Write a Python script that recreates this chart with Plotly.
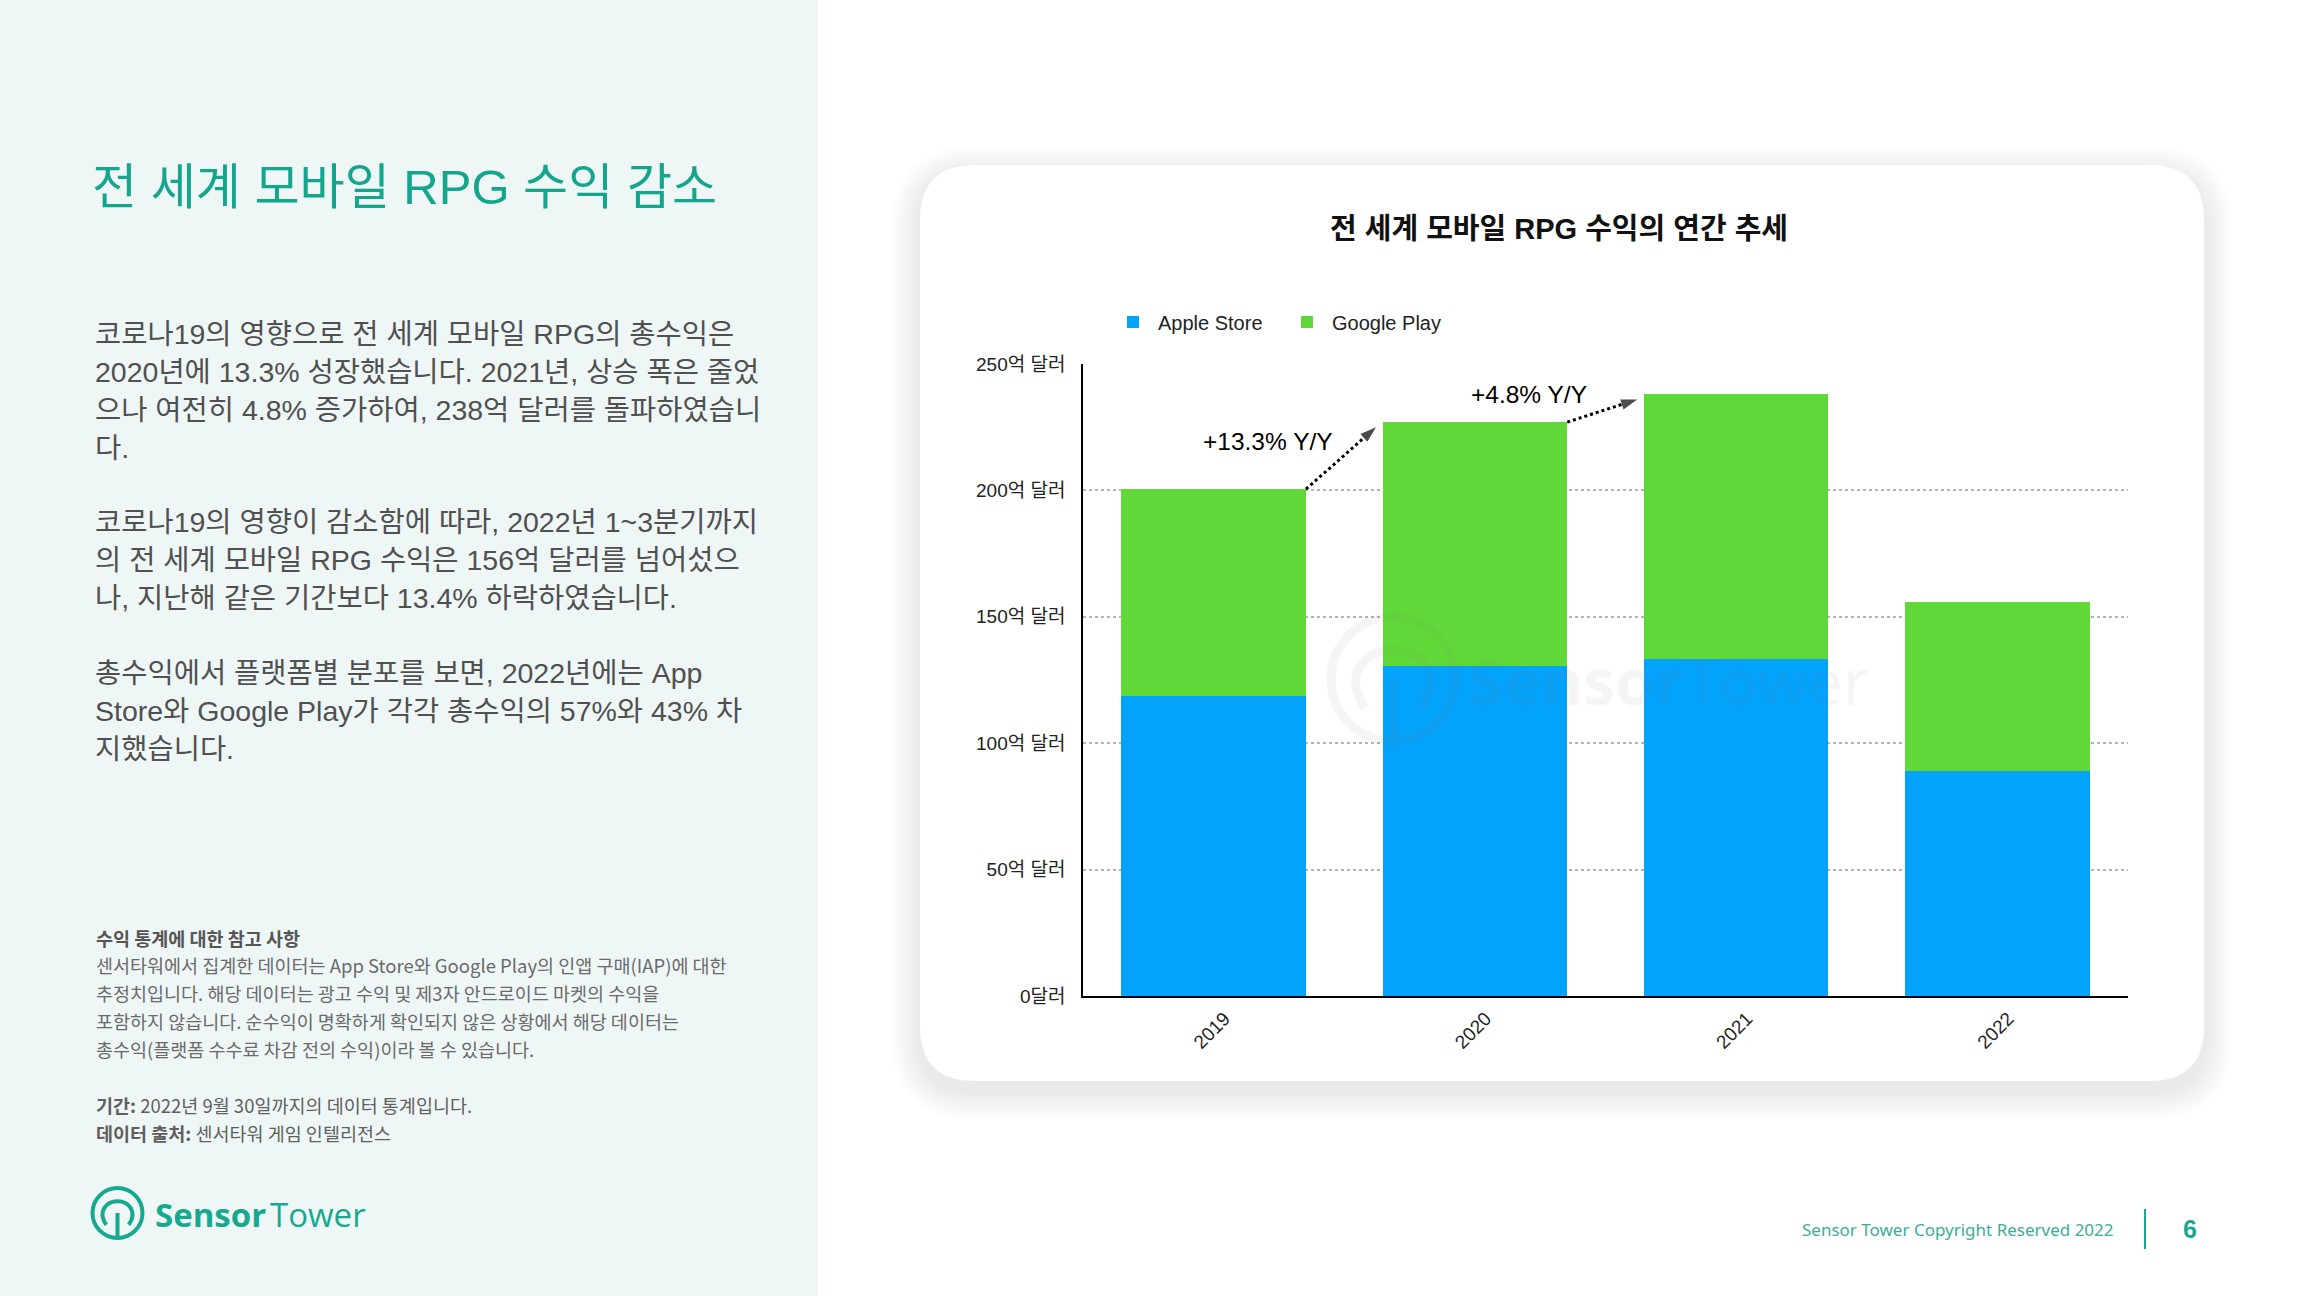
import plotly.graph_objects as go

# ---------------- data ----------------
years = ["2019", "2020", "2021", "2022"]
apple_store = [118.5, 130.5, 133.5, 89.0]   # 억 달러
google_play = [82.0, 96.5, 104.5, 67.0]     # 억 달러
yoy_labels = ["+13.3% Y/Y", "+4.8% Y/Y"]
y_tickvals = [0, 50, 100, 150, 200, 250]
y_ticktext = ["0달러", "50억 달러", "100억 달러", "150억 달러", "200억 달러", "250억 달러"]

chart_title = "전 세계 모바일 RPG 수익의 연간 추세"
page_title = "전 세계 모바일 RPG 수익 감소"
paragraphs = [
    ["코로나19의 영향으로 전 세계 모바일 RPG의 총수익은",
     "2020년에 13.3% 성장했습니다. 2021년, 상승 폭은 줄었",
     "으나 여전히 4.8% 증가하여, 238억 달러를 돌파하였습니",
     "다."],
    ["코로나19의 영향이 감소함에 따라, 2022년 1~3분기까지",
     "의 전 세계 모바일 RPG 수익은 156억 달러를 넘어섰으",
     "나, 지난해 같은 기간보다 13.4% 하락하였습니다."],
    ["총수익에서 플랫폼별 분포를 보면, 2022년에는 App",
     "Store와 Google Play가 각각 총수익의 57%와 43% 차",
     "지했습니다."],
]
note_title = "수익 통계에 대한 참고 사항"
note_lines = [
    "센서타워에서 집계한 데이터는 App Store와 Google Play의 인앱 구매(IAP)에 대한",
    "추정치입니다. 해당 데이터는 광고 수익 및 제3자 안드로이드 마켓의 수익을",
    "포함하지 않습니다. 순수익이 명확하게 확인되지 않은 상황에서 해당 데이터는",
    "총수익(플랫폼 수수료 차감 전의 수익)이라 볼 수 있습니다.",
]
period_text = "<b>기간:</b> 2022년 9월 30일까지의 데이터 통계입니다."
source_text = "<b>데이터 출처:</b> 센서타워 게임 인텔리전스"
footer_text = "Sensor Tower Copyright Reserved 2022"
page_number = "6"

# ---------------- helpers ----------------
W, H = 2304, 1296
def X(x):
    return x / W
def Y(y):
    return 1 - y / H

TEAL = "#17A98F"
BLUE = "#03A2FB"
GREEN = "#60D938"
KFONT = "Liberation Sans, Arial, Noto Sans CJK KR, sans-serif"
NFONT = "Noto Sans CJK KR, Noto Sans, sans-serif"

def rrect(x0, y0, x1, y1, r):
    return (f"M {X(x0+r)},{Y(y0)} L {X(x1-r)},{Y(y0)} Q {X(x1)},{Y(y0)} {X(x1)},{Y(y0+r)} "
            f"L {X(x1)},{Y(y1-r)} Q {X(x1)},{Y(y1)} {X(x1-r)},{Y(y1)} "
            f"L {X(x0+r)},{Y(y1)} Q {X(x0)},{Y(y1)} {X(x0)},{Y(y1-r)} "
            f"L {X(x0)},{Y(y0+r)} Q {X(x0)},{Y(y0)} {X(x0+r)},{Y(y0)} Z")

xpos = list(range(len(years)))
BW = 0.707
totals = [a + g for a, g in zip(apple_store, google_play)]

fig = go.Figure()
fig.add_trace(go.Bar(x=xpos, y=apple_store, name="Apple Store", marker=dict(color=BLUE, line=dict(width=0)),
                     width=BW))
fig.add_trace(go.Bar(x=xpos, y=google_play, name="Google Play", marker=dict(color=GREEN, line=dict(width=0)),
                     width=BW))

annotations = []
# YoY arrows (dotted) from top-right of one bar to top-left of the next
for i, lab in enumerate(yoy_labels):
    x0, y0 = xpos[i] + BW / 2, totals[i]
    x1, y1 = xpos[i + 1] - BW / 2 - 0.025, totals[i + 1] - 2
    fig.add_trace(go.Scatter(x=[x0, x1], y=[y0, y1], mode="lines+markers",
                             line=dict(color="black", width=3, dash="dot"),
                             marker=dict(symbol=["circle", "arrow"], size=[0, 17], color="black",
                                         angleref="previous", line=dict(width=0)),
                             showlegend=False, hoverinfo="skip", cliponaxis=False))
    annotations.append(dict(xref="x", yref="y", x=x0 - 0.145, y=(y0 + y1) / 2 + 6.5, text=lab,
                            showarrow=False, font=dict(family=KFONT, size=24.5, color="black")))

shapes = []
# left panel
shapes.append(dict(type="rect", xref="paper", yref="paper", x0=0, x1=X(818), y0=0, y1=1,
                   fillcolor="#EEF7F6", line=dict(width=0), layer="below"))
# card shadow
for k in range(7, 0, -1):
    e = k * 4
    shapes.append(dict(type="path", xref="paper", yref="paper",
                       path=rrect(920 - e, 165 - e + 10, 2204 + e, 1081 + e + 10, 55 + e),
                       fillcolor="rgba(0,0,0,0.012)", line=dict(width=0), layer="below"))
# card
shapes.append(dict(type="path", xref="paper", yref="paper", path=rrect(920, 165, 2204, 1081, 55),
                   fillcolor="white", line=dict(width=0), layer="below"))

# logo
def logo(cx, cy, r, color, width, layer):
    s = r / 25.5
    out = [dict(type="circle", xref="paper", yref="paper", x0=X(cx - r), x1=X(cx + r),
                y0=Y(cy + r), y1=Y(cy - r), line=dict(color=color, width=width), layer=layer)]
    p = (f"M {X(cx-11.5*s)},{Y(cy+12*s)} C {X(cx-21*s)},{Y(cy-2*s)} {X(cx-11*s)},{Y(cy-12*s)} {X(cx)},{Y(cy-12*s)} "
         f"C {X(cx+11*s)},{Y(cy-12*s)} {X(cx+21*s)},{Y(cy-2*s)} {X(cx+11.5*s)},{Y(cy+12*s)}")
    out.append(dict(type="path", xref="paper", yref="paper", path=p, line=dict(color=color, width=width), layer=layer))
    out.append(dict(type="line", xref="paper", yref="paper", x0=X(cx), x1=X(cx), y0=Y(cy), y1=Y(cy + r),
                    line=dict(color=color, width=width), layer=layer))
    return out

shapes += logo(117.5, 1213, 25, TEAL, 4, "above")
# watermark in chart
WM = "rgba(120,120,120,0.075)"
shapes += logo(1393, 679, 62, WM, 9, "above")
annotations.append(dict(xref="paper", yref="paper", x=X(1466), y=Y(681), xanchor="left", yanchor="middle",
                        text="<b>Sensor</b>Tower", showarrow=False,
                        font=dict(family="Open Sans, sans-serif", size=64, color=WM)))

# footer separator
shapes.append(dict(type="line", xref="paper", yref="paper", x0=X(2145), x1=X(2145), y0=Y(1209), y1=Y(1249),
                   line=dict(color=TEAL, width=2)))

# left text
annotations.append(dict(xref="paper", yref="paper", x=X(90), y=Y(187), xanchor="left", yanchor="middle",
                        text=page_title, showarrow=False, font=dict(family=KFONT, size=49, color="#14A68C")))
para_y = [[333.5, 371.7, 410, 448], [521.6, 559.8, 598], [673, 711.2, 749.4]]
for lines, ys in zip(paragraphs, para_y):
    for t, yy in zip(lines, ys):
        annotations.append(dict(xref="paper", yref="paper", x=X(93), y=Y(yy), xanchor="left", yanchor="middle",
                                text=t, showarrow=False, font=dict(family=KFONT, size=28.5, color="#505050")))
annotations.append(dict(xref="paper", yref="paper", x=X(94), y=Y(937.5), xanchor="left", yanchor="middle",
                        text=f"<b>{note_title}</b>", showarrow=False, font=dict(family=NFONT, size=18.5, color="#555555")))
for t, yy in zip(note_lines, [965.4, 993.3, 1021.2, 1049]):
    annotations.append(dict(xref="paper", yref="paper", x=X(94), y=Y(yy), xanchor="left", yanchor="middle",
                            text=t, showarrow=False, font=dict(family=NFONT, size=18.5, color="#6A6A6A")))
for t, yy in zip([period_text, source_text], [1105, 1133]):
    annotations.append(dict(xref="paper", yref="paper", x=X(94), y=Y(yy), xanchor="left", yanchor="middle",
                            text=t, showarrow=False, font=dict(family=NFONT, size=18.5, color="#5F5F5F")))
# logo text
annotations.append(dict(xref="paper", yref="paper", x=X(153), y=Y(1214), xanchor="left", yanchor="middle",
                        text="<b>Sensor</b>", showarrow=False,
                        font=dict(family="Open Sans, sans-serif", size=33, color=TEAL)))
annotations.append(dict(xref="paper", yref="paper", x=X(268), y=Y(1214), xanchor="left", yanchor="middle",
                        text="Tower", showarrow=False,
                        font=dict(family="Open Sans, sans-serif", size=33, color=TEAL)))
# chart title
annotations.append(dict(xref="paper", yref="paper", x=X(1559), y=Y(229), xanchor="center", yanchor="middle",
                        text=f"<b>{chart_title}</b>", showarrow=False, font=dict(family=KFONT, size=29, color="#111111")))
# footer
annotations.append(dict(xref="paper", yref="paper", x=X(2116), y=Y(1229), xanchor="right", yanchor="middle",
                        text=footer_text, showarrow=False, font=dict(family="Noto Sans, sans-serif", size=17, color="#3AAE95")))
annotations.append(dict(xref="paper", yref="paper", x=X(2190), y=Y(1229), xanchor="center", yanchor="middle",
                        text=f"<b>{page_number}</b>", showarrow=False, font=dict(family=KFONT, size=25, color=TEAL)))

fig.update_layout(
    width=W, height=H, margin=dict(l=0, r=0, t=0, b=0, autoexpand=False),
    paper_bgcolor="white", plot_bgcolor="rgba(0,0,0,0)",
    barmode="stack", bargap=0.29,
    font=dict(family=KFONT, color="#222222"),
    xaxis=dict(domain=[X(1083), X(2128)], range=[-0.5, 3.5], tickvals=xpos, ticktext=years,
               tickangle=-45, showgrid=False, zeroline=False, showline=True, linecolor="black", linewidth=2,
               ticks="", ticklabelshift=11, ticklabelstandoff=2, automargin=False,
               tickfont=dict(size=19, color="#222222"), fixedrange=True),
    yaxis=dict(domain=[Y(996), Y(364)], range=[0, 250], tickvals=y_tickvals, ticktext=y_ticktext,
               showgrid=True, gridcolor="#B4B4B4", gridwidth=2, griddash="dot", zeroline=False,
               showline=True, linecolor="black", linewidth=1.5, ticks="", ticklabelstandoff=12, automargin=False,
               tickfont=dict(size=19, color="#222222"), fixedrange=True),
    legend=dict(orientation="h", x=X(1108), y=Y(322), xanchor="left", yanchor="middle",
                itemwidth=40, entrywidth=119,
                font=dict(size=20, color="#222222"), bgcolor="rgba(0,0,0,0)", traceorder="normal"),
    shapes=shapes, annotations=annotations, showlegend=True,
)

fig.write_html("out.html",
               post_script="document.body.style.margin='0';document.documentElement.style.overflow='hidden';")
